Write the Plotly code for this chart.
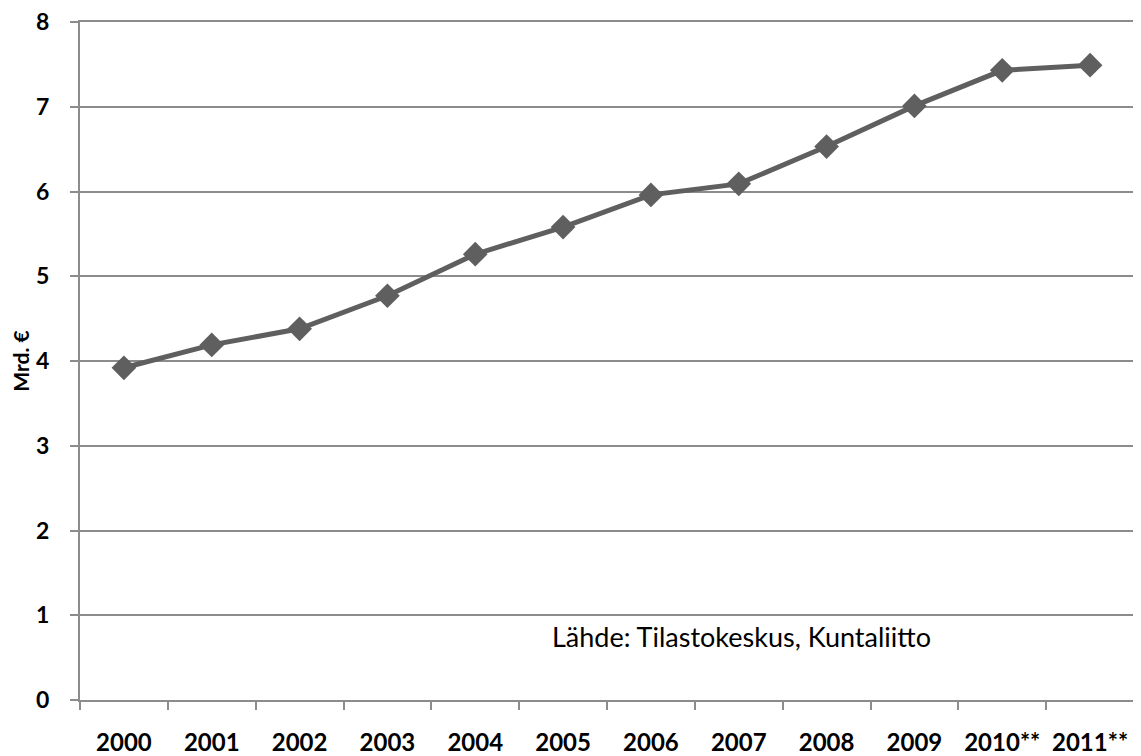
import plotly.graph_objects as go

years = ["2000", "2001", "2002", "2003", "2004", "2005", "2006", "2007", "2008", "2009", "2010**", "2011**"]
values = [3.92, 4.19, 4.38, 4.77, 5.26, 5.58, 5.96, 6.09, 6.53, 7.01, 7.43, 7.49]
y_ticks = [0, 1, 2, 3, 4, 5, 6, 7, 8]

font_family = "Lato, Open Sans, sans-serif"
grid_col = "#8c8c8c"

fig = go.Figure()
fig.add_trace(go.Scatter(
    x=years, y=values, mode="lines+markers",
    line=dict(color="#5f5f5f", width=5),
    marker=dict(symbol="diamond", size=19, color="#5f5f5f"),
    showlegend=False,
))

fig.update_layout(
    width=1133, height=748,
    margin=dict(l=72, r=7, t=14, b=56, autoexpand=False),
    plot_bgcolor="white", paper_bgcolor="white",
    font=dict(family=font_family, color="black"),
    xaxis=dict(
        type="category", tickson="boundaries", ticks="outside", ticklen=8,
        tickcolor=grid_col, tickwidth=2, showgrid=False,
        showline=True, linecolor=grid_col, linewidth=2, mirror=True,
        tickfont=dict(size=24, family=font_family, weight="bold"),
        ticklabelstandoff=20, ticklabeloverflow="allow",
        range=[-0.5, 11.5],
    ),
    yaxis=dict(
        range=[0, 8], tickvals=y_ticks, ticks="outside", ticklen=8,
        tickcolor=grid_col, tickwidth=2, showgrid=True, gridcolor=grid_col, gridwidth=2,
        showline=True, linecolor=grid_col, linewidth=2, mirror=True, zeroline=False,
        tickfont=dict(size=23, family=font_family, weight="bold"),
        ticklabelstandoff=16, ticklabeloverflow="allow",
        title=dict(text="Mrd. €", font=dict(size=21, family=font_family, weight="bold"), standoff=16),
    ),
    annotations=[dict(
        text="Lähde: Tilastokeskus, Kuntaliitto", x=0.628, y=0.093,
        xref="paper", yref="paper", xanchor="center", yanchor="middle", showarrow=False,
        font=dict(size=27, family=font_family, color="black"),
    )],
)

fig.write_html("out.html")
